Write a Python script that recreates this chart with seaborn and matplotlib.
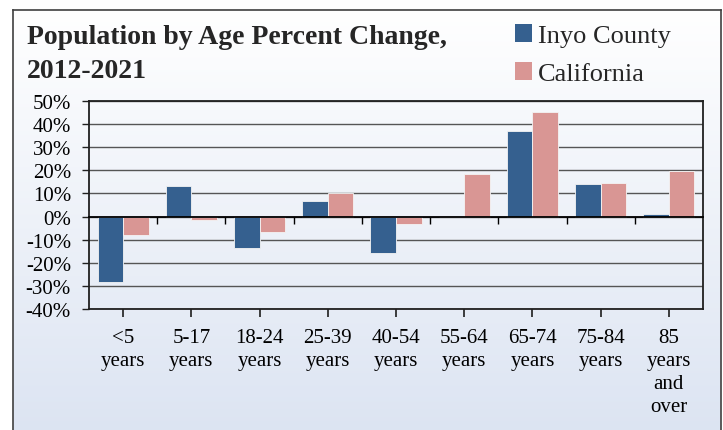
import numpy as np
import pandas as pd
import matplotlib
matplotlib.use("Agg")
import matplotlib.pyplot as plt
import seaborn as sns
from matplotlib.ticker import FuncFormatter, MultipleLocator
from matplotlib.colors import LinearSegmentedColormap
from matplotlib.patches import Patch

categories = ["<5\nyears", "5-17\nyears", "18-24\nyears", "25-39\nyears", "40-54\nyears",
              "55-64\nyears", "65-74\nyears", "75-84\nyears", "85\nyears\nand\nover"]
inyo = [-28.4, 13.4, -13.4, 6.9, -15.9, -0.4, 36.9, 14.0, 0.9]
california = [-7.8, -1.6, -6.8, 10.1, -3.2, 18.6, 45.4, 14.4, 19.6]
series_names = ["Inyo County", "California"]
colors = ["#35608f", "#d99694"]

df = pd.DataFrame({
    "Age": categories * 2,
    "Series": [series_names[0]] * len(categories) + [series_names[1]] * len(categories),
    "Change": inyo + california,
})

sns.set_theme(style="white")
plt.rcParams["font.family"] = ["Liberation Serif", "DejaVu Serif"]

fig = plt.figure(figsize=(7.23, 4.31), dpi=100)
fig.patch.set_facecolor("white")

# framed background with vertical gradient
bg = fig.add_axes([13 / 723, -0.01, (721 - 13) / 723, (431 - 11) / 431 + 0.01], zorder=0)
grad = np.linspace(0, 1, 256).reshape(-1, 1)
cmap = LinearSegmentedColormap.from_list("bg", ["#ffffff", "#dce4f2"])
bg.imshow(grad, aspect="auto", cmap=cmap, extent=[0, 1, 0, 1], origin="upper")
bg.set_xticks([]); bg.set_yticks([])
for s in ["left", "top", "right"]:
    bg.spines[s].set_color("#404040"); bg.spines[s].set_linewidth(1.2)
bg.spines["bottom"].set_visible(False)

ax = fig.add_axes([89 / 723, 1 - 310 / 431, (703 - 89) / 723, (310 - 102) / 431], zorder=2)
ax.patch.set_alpha(0)
sns.barplot(data=df, x="Age", y="Change", hue="Series", palette=colors, width=0.75,
            saturation=1, edgecolor="#f4f4f4", linewidth=0.6, ax=ax, legend=False, zorder=3)
ax.set_ylim(-40, 50)
ax.set_xlim(-0.5, len(categories) - 0.5)
ax.yaxis.set_major_locator(MultipleLocator(10))
ax.yaxis.set_major_formatter(FuncFormatter(lambda v, p: f"{int(round(v))}%"))
ax.grid(axis="y", color="#555555", linewidth=1.0)
ax.set_axisbelow(True)
for s in ax.spines.values():
    s.set_visible(True); s.set_color("#202020"); s.set_linewidth(1.3)
ax.tick_params(axis="y", left=True, length=5, width=1, color="#202020", labelsize=15, pad=8)
ax.tick_params(axis="x", bottom=False, labelsize=15, pad=8)
ax.set_xlabel(""); ax.set_ylabel("")
for lab in ax.get_xticklabels():
    lab.set_linespacing(1.27)
    lab.set_verticalalignment("top")
for lab in ax.get_yticklabels() + ax.get_xticklabels():
    lab.set_color("black")

# zero axis with category-boundary ticks
ax2 = ax.twiny()
ax2.set_xlim(ax.get_xlim())
ax2.patch.set_alpha(0)
for s in ["top", "left", "right"]:
    ax2.spines[s].set_visible(False)
ax2.spines["bottom"].set_visible(True)
ax2.spines["bottom"].set_position(("data", 0))
ax2.spines["bottom"].set_color("black")
ax2.spines["bottom"].set_linewidth(1.3)
ax2.xaxis.set_ticks_position("bottom")
ax2.set_xticks(np.arange(0.5, len(categories) - 0.5, 1.0))
ax2.set_xticklabels([])
ax2.tick_params(axis="x", direction="out", length=5, width=1, color="black")

fig.text(27 / 723, 1 - 38 / 431, "Population by Age Percent Change,", fontsize=20,
         fontweight="bold", va="center", ha="left")
fig.text(27 / 723, 1 - 71 / 431, "2012-2021", fontsize=20,
         fontweight="bold", va="center", ha="left")

handles = [Patch(facecolor=c, edgecolor="none") for c in colors]
leg = fig.legend(handles, series_names, loc="upper left", bbox_to_anchor=(515 / 723, 1 - 25 / 431),
                 frameon=False, fontsize=19, handlelength=0.65, handleheight=0.65,
                 handletextpad=0.22, labelspacing=0.58, borderaxespad=0, borderpad=0)

fig.savefig("out.png", dpi=100)
